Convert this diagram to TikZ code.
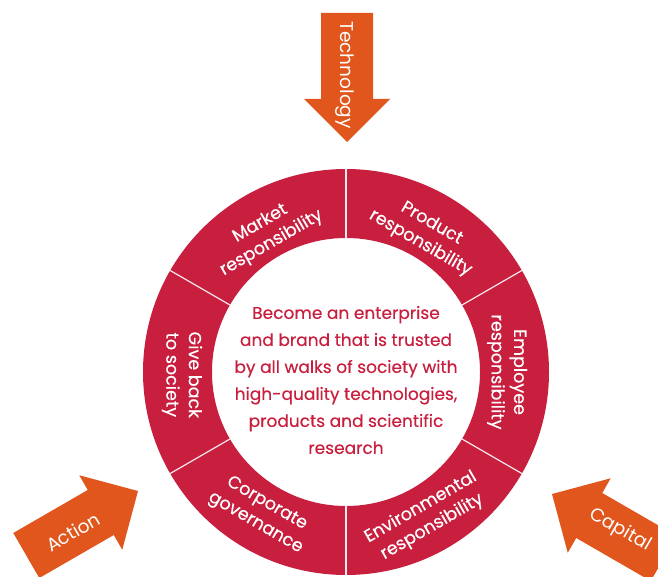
\documentclass[tikz,border=0pt]{standalone}
\usepackage{fontspec}
\setmainfont{Poppins}
\newfontfamily\medfont{Poppins}[FakeBold=0.35]
\usetikzlibrary{calc}
\definecolor{ringred}{RGB}{200,31,62}
\definecolor{arroworange}{RGB}{224,86,28}
\begin{document}
\begin{tikzpicture}[x=1pt,y=1pt,
  seglabel/.style={text=white, font=\medfont\fontsize{17.5}{22.5}\selectfont, align=center, inner sep=0pt},
  arrowlabel/.style={text=white, font=\fontsize{18.5}{20}\selectfont, inner sep=0pt},
  divider/.style={draw=white!90!ringred, line width=1.2pt}]
\useasboundingbox (0,0) rectangle (658,576);
\coordinate (C) at (346,204);
% ring
\fill[ringred, even odd rule] (C) circle[radius=203] (C) circle[radius=134];
% dividers
\foreach \a in {30,90,150,210,270,330}{
  \draw[divider] ($(C)+(\a:134)$) -- ($(C)+(\a:203)$);
}
% arrows
\foreach \tx/\ty/\ang in {347/434/-90, 138/85/30, 552/82/150}{
  \fill[arroworange, shift={(\tx,\ty)}, rotate=\ang]
    (0,0) -- (-43,43) -- (-43,26) -- (-129,26) -- (-129,-26) -- (-43,-26) -- (-43,-43) -- cycle;
}
\node[arrowlabel, rotate=-90] (tech) at (345,501) {Technology};
\node[arrowlabel, rotate=30] (action) at (73,44) {Action};
\node[arrowlabel, rotate=-30] (capital) at (620,46) {Capital};
% segment labels
\node[seglabel, rotate=30] (market) at ($(C)+(120:160)$) {Market\\responsibility};
\node[seglabel, rotate=-30] (product) at ($(C)+(60:160)$) {Product\\responsibility};
\node[seglabel, rotate=-90] (employee) at ($(C)+(0:161)$) {Employee\\responsibility};
\node[seglabel, rotate=30] (environ) at ($(C)+(-61:166)$) {Environmental\\responsibility};
\node[seglabel, rotate=-30] (corporate) at ($(C)+(-121:165)$) {Corporate\\governance};
\node[seglabel, rotate=-90] (give) at ($(C)+(181:164)$) {Give back\\to society};
% centre
\node[text=ringred, font=\medfont\fontsize{17}{27}\selectfont, align=center, inner sep=0pt] (centre) at (346,196)
  {Become an enterprise\\and brand that is trusted\\by all walks of society with\\high-quality technologies,\\products and scientific\\research};
\end{tikzpicture}
\end{document}
